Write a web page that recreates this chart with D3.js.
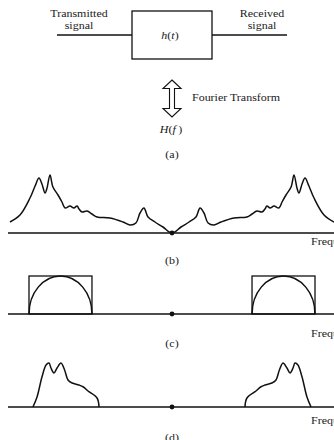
<!DOCTYPE html>
<html><head><meta charset="utf-8">
<script src="https://cdn.jsdelivr.net/npm/d3@7"></script>
<style>
html,body{margin:0;padding:0;background:#fff;overflow:hidden}
svg{display:block}
</style></head>
<body>
<script>
// ---- data ----
const panelLabels = ["(a)", "(b)", "(c)", "(d)"];
const axisLabel = "Frequency";
// (b) channel response, positive-frequency half (mirrored for negative)
const freqB = [0,0.055,0.104,0.146,0.171,0.195,0.22,0.256,0.299,0.378,0.457,0.488,0.518,0.549,0.567,0.579,0.598,0.622,0.652,0.671,0.695,0.726,0.744,0.762,0.774,0.793,0.811,0.835,0.866,0.927,0.988];
const ampB  = [0,6,11,16,25,20,10,8,11,15,16,19,22,21,24,27,25,27,25,31,38,46,58,45,40,49,55,47,35,18,11];
// (c) ideal band-pass: band edges and level
const bandC = [0.488, 0.872];
const levelC = 38;
// (d) received spectrum, positive-frequency half
const freqD = [0.445,0.457,0.512,0.54,0.567,0.609,0.634,0.655,0.677,0.701,0.72,0.738,0.75,0.768,0.793,0.823,0.848];
const ampD  = [0,9,16,20,22,24,27,37,44,39,34,39,44,42,30,10,0];

const W = 334, H = 440;
const FONT = "'Liberation Serif', 'Times New Roman', Times, 'DejaVu Serif', serif";
const svg = d3.select("body").append("svg").attr("width", W).attr("height", H)
  .attr("font-family", FONT).attr("font-size", 10.5).attr("fill", "#1a1a1a");
const ink = "#111";
const SX = 1.14;

function txt(g, x, y, anchor, parts) {
  const t = g.append("text").attr("transform", `translate(${x},${y}) scale(${SX},1)`).attr("text-anchor", anchor);
  (Array.isArray(parts) ? parts : [[parts, false]]).forEach(([s, it]) => {
    t.append("tspan").attr("font-style", it ? "italic" : "normal").text(s);
  });
  return t;
}

// ---- block diagram ----
const g0 = svg.append("g");
g0.append("line").attr("x1",57).attr("x2",132).attr("y1",35).attr("y2",35).attr("stroke",ink).attr("stroke-width",1.3);
g0.append("line").attr("x1",212).attr("x2",287).attr("y1",35).attr("y2",35).attr("stroke",ink).attr("stroke-width",1.3);
g0.append("rect").attr("x",132).attr("y",11).attr("width",80).attr("height",48).attr("fill","none").attr("stroke",ink).attr("stroke-width",1.3);
txt(g0, 79, 16.7, "middle", "Transmitted");
txt(g0, 79, 28.7, "middle", "signal");
txt(g0, 262, 16.7, "middle", "Received");
txt(g0, 262, 28.7, "middle", "signal");
txt(g0, 170, 39, "middle", [["h",true],["(",false],["t",true],[")",false]]);

// double arrow
const cx = 172;
const arrowPts = [[cx,80],[cx+9,88.5],[cx+2.5,88.5],[cx+2.5,108.5],[cx+9,108.5],[cx,117],[cx-9,108.5],[cx-2.5,108.5],[cx-2.5,88.5],[cx-9,88.5]];
g0.append("path").attr("d", d3.line()(arrowPts)+"Z").attr("fill","#fff").attr("stroke",ink).attr("stroke-width",1.1).attr("stroke-linejoin","miter");
txt(g0, 192, 101, "start", "Fourier Transform");
txt(g0, 171, 133, "middle", [["H",true],["(",false],["f",true],["\u2009)",false]]);
txt(g0, 172, 157.5, "middle", panelLabels[0]);

// ---- spectrum panels ----
const x = d3.scaleLinear().domain([-1,1]).range([8,336]);
function panel(base, labelY, freqLabelY, label) {
  const y = d3.scaleLinear().domain([0,60]).range([base, base-60]);
  const g = svg.append("g");
  g.append("line").attr("x1",x(-1)).attr("x2",x(1)).attr("y1",y(0)).attr("y2",y(0)).attr("stroke",ink).attr("stroke-width",1.3);
  g.append("circle").attr("cx",x(0)).attr("cy",y(0)).attr("r",2.4).attr("fill",ink);
  txt(g, 311, freqLabelY, "start", axisLabel);
  txt(g, 172, labelY, "middle", label);
  return {g, y};
}
function mirrored(freq, amp) {
  const pos = freq.map((f,i)=>[f, amp[i]]);
  const neg = pos.slice().reverse().map(([f,a])=>[-f,a]);
  return {neg, pos};
}
const curve = d3.curveCatmullRom.alpha(0.5);

// (b)
{
  const {g, y} = panel(233, 264, 245, panelLabels[1]);
  const pts = mirrored(freqB, ampB);
  const all = pts.neg.concat(pts.pos.slice(1));
  const line = d3.line().x(d=>x(d[0])).y(d=>y(d[1])).curve(curve);
  g.append("path").attr("d", line(all)).attr("fill","none").attr("stroke",ink).attr("stroke-width",1.5);
}
// (c)
{
  const {g, y} = panel(314, 347, 337, panelLabels[2]);
  [[-bandC[1], -bandC[0]], [bandC[0], bandC[1]]].forEach(([a,b])=>{
    g.append("rect").attr("x",x(a)).attr("y",y(levelC)).attr("width",x(b)-x(a)).attr("height",y(0)-y(levelC))
      .attr("fill","none").attr("stroke",ink).attr("stroke-width",1.3);
    const rx = (x(b)-x(a))/2, ry = y(0)-y(levelC);
    g.append("path").attr("d",`M${x(a)},${y(0)} A${rx},${ry} 0 0 1 ${x(b)},${y(0)}`)
      .attr("fill","none").attr("stroke",ink).attr("stroke-width",1.5);
  });
}
// (d)
{
  const {g, y} = panel(407, 441, 424, panelLabels[3]);
  const pts = mirrored(freqD, ampD);
  const line = d3.line().x(d=>x(d[0])).y(d=>y(d[1])).curve(curve);
  g.append("path").attr("d", line(pts.neg)).attr("fill","none").attr("stroke",ink).attr("stroke-width",1.5);
  g.append("path").attr("d", line(pts.pos)).attr("fill","none").attr("stroke",ink).attr("stroke-width",1.5);
}
</script>
</body></html>
